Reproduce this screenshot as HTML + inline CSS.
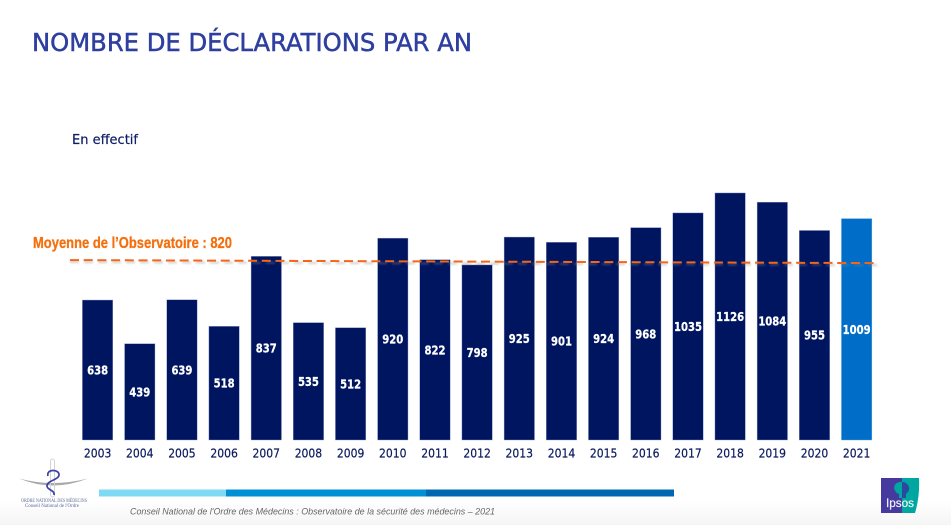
<!DOCTYPE html>
<html lang="fr">
<head>
<meta charset="utf-8">
<title>Nombre de déclarations par an</title>
<style>
html,body{margin:0;padding:0;background:#fff;}
#page{position:relative;width:951px;height:525px;overflow:hidden;background:linear-gradient(to bottom,#fff 0,#fff 500px,#f5f5f5 525px);}
svg{position:absolute;left:0;top:0;font-family:"DejaVu Sans","Liberation Sans",sans-serif;}
</style>
</head>
<body>
<div id="page">
<svg id="chart" width="951" height="525" viewBox="0 0 951 525">
  <defs>
    <filter id="lineShadow" x="-5%" y="-500%" width="110%" height="1100%">
      <feGaussianBlur stdDeviation="1"/>
    </filter>
    <clipPath id="ipsosLeft"><rect x="881" y="478" width="21" height="35"/></clipPath>
    <clipPath id="ipsosRight"><rect x="902" y="478" width="18" height="35"/></clipPath>
  </defs>
  <text x="32" y="51" font-size="24.5" fill="#2e3f9f" stroke="#2e3f9f" stroke-width="0.5" textLength="440" lengthAdjust="spacingAndGlyphs">NOMBRE DE DÉCLARATIONS PAR AN</text>
  <text x="72" y="144" font-size="13.5" fill="#0f1f66" stroke="#0f1f66" stroke-width="0.2" textLength="66" lengthAdjust="spacingAndGlyphs">En effectif</text>
  <g id="bars"></g>
  <g id="mean"></g>
  <text x="33" y="248" font-family="Liberation Sans" font-size="15.5" font-weight="bold" fill="#f4700f" stroke="#f4700f" stroke-width="0.3" textLength="199" lengthAdjust="spacingAndGlyphs">Moyenne de l’Observatoire : 820</text>

  <g>
    <path d="M19 478.5 Q36 483 53 483 Q70 483 88 478.5 Q70 485.5 53 485.5 Q36 485.5 19 478.5Z" fill="#a9a9a9"/>
    <rect x="50.5" y="459" width="4" height="38" rx="2" fill="none" stroke="#d4d4d4" stroke-width="1"/>
    <path d="M48 476 C46 469 58 469 59 474 C60 480 47 480 47 486 C47 490 55 490 54 495" fill="none" stroke="#3a3fa6" stroke-width="1.7"/>
    <text x="54" y="502" font-size="5" font-family="Liberation Serif" fill="#5c6a96" text-anchor="middle" textLength="66" lengthAdjust="spacingAndGlyphs">ORDRE NATIONAL DES MÉDECINS</text>
    <text x="52" y="507" font-size="5" font-family="Liberation Serif" fill="#5c6a96" text-anchor="middle" textLength="54" lengthAdjust="spacingAndGlyphs">Conseil National de l'Ordre</text>
  </g>

  <g>
    <rect x="99" y="489.5" width="127" height="7" fill="#80d9f3"/>
    <rect x="226" y="489.5" width="200" height="7" fill="#0090d5"/>
    <rect x="426" y="489.5" width="248" height="7" fill="#0068b2"/>
  </g>
  <text x="130" y="514.5" font-family="Liberation Sans" font-size="9" font-style="italic" fill="#666" textLength="365" lengthAdjust="spacingAndGlyphs">Conseil National de l'Ordre des Médecins : Observatoire de la sécurité des médecins – 2021</text>

  <g>
    <rect x="881" y="478" width="21" height="35" fill="#463a9f"/>
    <path d="M902 478 H919 Q920 496 915 513 H902Z" fill="#00a6a0"/>
    <path d="M899 498 V494 C893 492 892 483 900 482 C908 481 911 488 908 492 L906 494 V498Z" fill="#00a6a0" clip-path="url(#ipsosLeft)"/>
    <path d="M899 498 V494 C893 492 892 483 900 482 C908 481 911 488 908 492 L906 494 V498Z" fill="#2b4a9f" clip-path="url(#ipsosRight)"/>
    <text x="886" y="507" font-family="Liberation Sans" font-size="11.5" fill="#eef6f8" stroke="#eef6f8" stroke-width="0.2" textLength="28" lengthAdjust="spacingAndGlyphs">Ipsos</text>
  </g>
</svg>
</div>
<script>
const categories = ['2003','2004','2005','2006','2007','2008','2009','2010','2011','2012','2013','2014','2015','2016','2017','2018','2019','2020','2021'];
const values = [638,439,639,518,837,535,512,920,822,798,925,901,924,968,1035,1126,1084,955,1009];
const meanValue = 820;

const NS = 'http://www.w3.org/2000/svg';
const baseY = 440, pxPerUnit = 0.2194, firstX = 82.4, stepX = 42.17, barW = 30.4;
function yScale(v){ return baseY - v * pxPerUnit; }
function xScale(i){ return firstX + i * stepX; }
function make(tag, attrs, parent){
  const el = document.createElementNS(NS, tag);
  for (const k in attrs) el.setAttribute(k, attrs[k]);
  parent.appendChild(el);
  return el;
}
const barsG = document.getElementById('bars');
categories.forEach(function(cat, i){
  const last = i === categories.length - 1;
  const x = xScale(i), top = yScale(values[i]);
  const bar = make('rect', {x: x, y: top, width: barW, height: baseY - top, fill: last ? '#006ec8' : '#001560', stroke: last ? '#5aa5e0' : '#8f9bc4', 'stroke-width': 0.4}, barsG);
  
  
  const label = String(values[i]);
  const val = make('text', {x: x + barW / 2, y: (top + baseY) / 2 + 4.5, 'text-anchor': 'middle', 'font-size': 12, 'font-weight': 'bold', fill: '#fff', stroke: '#fff', 'stroke-width': 0.25, textLength: label.length * 7, lengthAdjust: 'spacingAndGlyphs'}, barsG);
  val.textContent = label;
  
  
  const tick = make('text', {x: x + barW / 2, y: 457.5, 'text-anchor': 'middle', 'font-size': 12, fill: '#0b1a5e', stroke: '#0b1a5e', 'stroke-width': 0.2, textLength: 27.5, lengthAdjust: 'spacingAndGlyphs'}, barsG);
  tick.textContent = cat;
  
  
});
const meanG = document.getElementById('mean');
const meanY = yScale(meanValue);
const shadow = make('line', {x1: 70, y1: meanY + 2, x2: 877, y2: meanY + 5, stroke: '#888', 'stroke-width': 1.6, 'stroke-dasharray': '9 5', opacity: 0.5, filter: 'url(#lineShadow)'}, meanG);


const meanLine = make('line', {x1: 70, y1: meanY, x2: 877, y2: meanY + 3, stroke: '#f4661a', 'stroke-width': 2, 'stroke-dasharray': '9 4.7'}, meanG);


</script>
</body>
</html>
